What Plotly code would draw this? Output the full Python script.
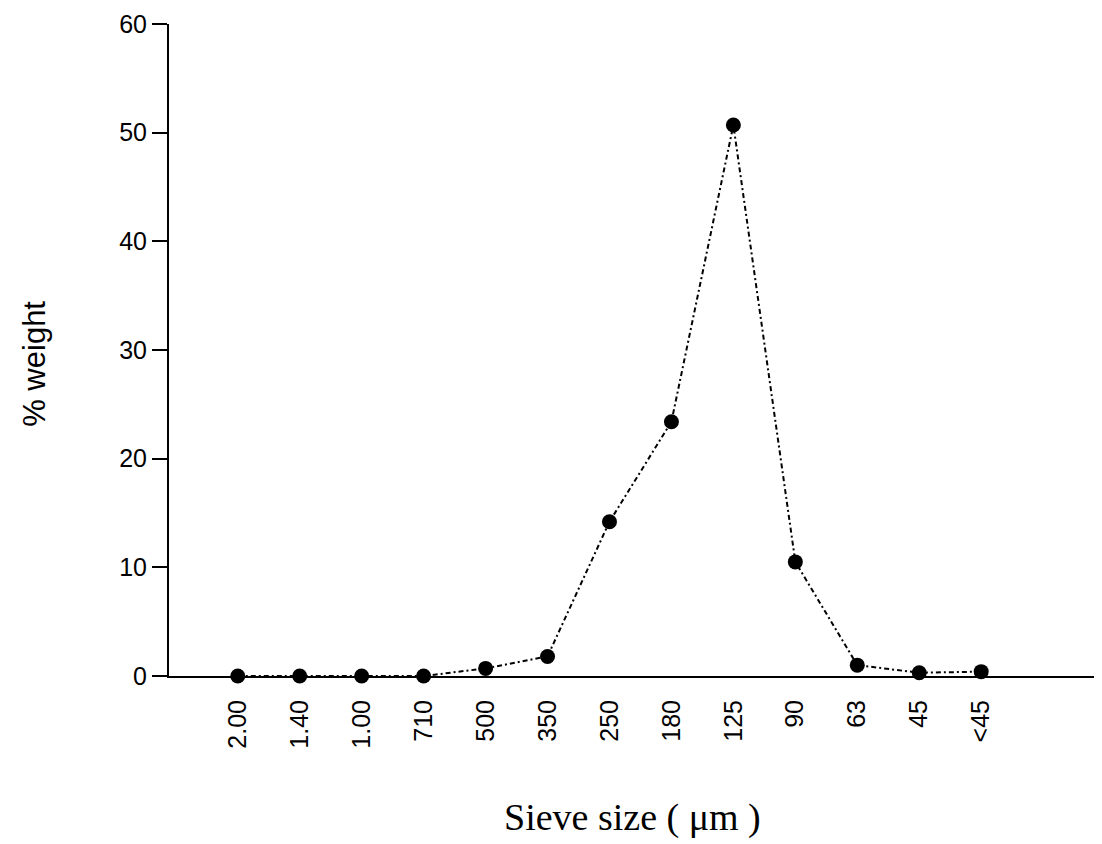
import plotly.graph_objects as go

sieve_sizes = ["2.00", "1.40", "1.00", "710", "500", "350", "250", "180", "125", "90", "63", "45", "<45"]
percent_weight = [0.0, 0.0, 0.0, 0.0, 0.7, 1.8, 14.2, 23.4, 50.7, 10.5, 1.0, 0.3, 0.4]
y_ticks = [0, 10, 20, 30, 40, 50, 60]

idx = list(range(len(sieve_sizes)))

fig = go.Figure()
fig.add_trace(go.Scatter(
    x=idx, y=percent_weight, mode="lines+markers",
    line=dict(color="black", width=2, dash="5px,3px,2px,3px"),
    marker=dict(color="black", size=15),
    cliponaxis=False, showlegend=False,
))

fig.update_layout(
    width=1094, height=836,
    paper_bgcolor="white", plot_bgcolor="white",
    margin=dict(l=161, r=0, t=16, b=168),
    font=dict(family="Liberation Sans, Arial, sans-serif", color="black"),
    annotations=[
        dict(text="% weight", xref="paper", yref="paper", x=-0.1435, y=0.479,
             xanchor="center", yanchor="middle", textangle=-90, showarrow=False,
             font=dict(size=31, family="Liberation Sans, Arial, sans-serif")),
        dict(text="Sieve size ( μm )", xref="paper", yref="paper", x=0.4968, y=-0.2175,
             xanchor="center", yanchor="middle", showarrow=False,
             font=dict(size=38, family="Liberation Serif, Times New Roman, serif")),
    ],
)
fig.update_xaxes(
    range=[-1.11, 13.95],
    tickmode="array", tickvals=idx, ticktext=sieve_sizes,
    tickangle=-90, tickfont=dict(size=25),
    showgrid=False, zeroline=False,
    showline=True, linecolor="black", linewidth=2,
    ticks="", automargin=False, ticklabelstandoff=12,
)
fig.update_yaxes(
    range=[0, 60],
    tickmode="array", tickvals=y_ticks,
    tickfont=dict(size=25), ticksuffix="  ",
    ticklabeloverflow="allow",
    showgrid=False, zeroline=False,
    showline=True, linecolor="black", linewidth=2,
    ticks="outside", ticklen=15, tickwidth=2, tickcolor="black",
    automargin=False,
)

fig.write_html("out.html")
